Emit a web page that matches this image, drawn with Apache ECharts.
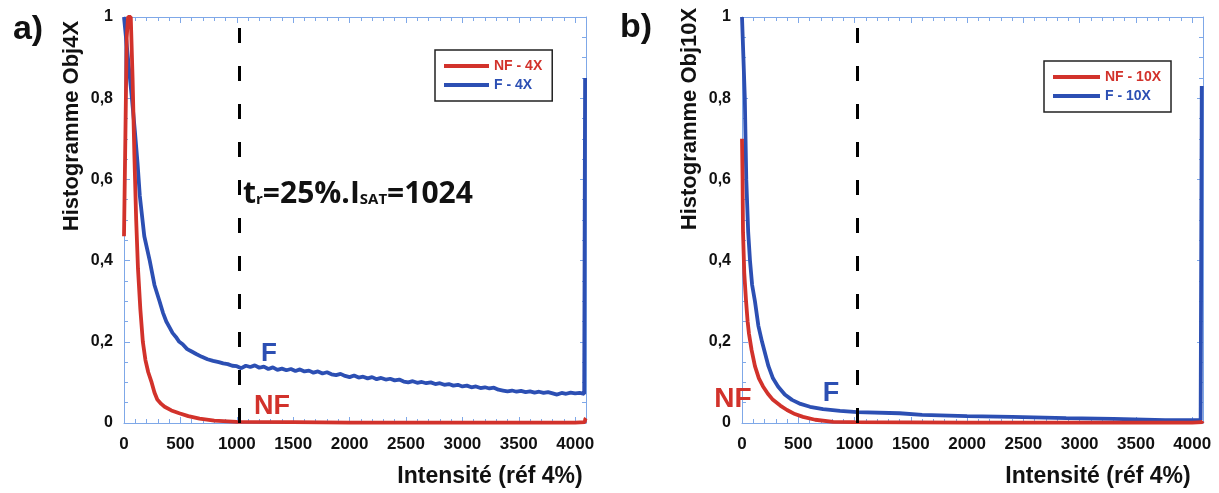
<!DOCTYPE html>
<html>
<head>
<meta charset="utf-8">
<script src="https://cdn.jsdelivr.net/npm/echarts@6/dist/echarts.min.js"></script>
<style>
html,body{margin:0;padding:0;background:#fff;}
#c{width:1219px;height:493px;}
</style>
</head>
<body>
<div id="c"></div>
<script>
// ---- Data (x = intensity, y = normalised histogram) ----
const xTickValues = [0, 500, 1000, 1500, 2000, 2500, 3000, 3500, 4000];
const yTickValues = [0, 0.2, 0.4, 0.6, 0.8, 1];
const thresholdX = 1024;

const NF4 = [[0,0.46],[12,0.7],[24,0.95],[36,1.0],[60,1.0],[76,0.85],[92,0.66],[108,0.5],[124,0.38],[145,0.28],[167,0.2],[190,0.155],[215,0.125],[245,0.1],[270,0.075],[295,0.058],[330,0.047],[360,0.04],[420,0.031],[490,0.024],[570,0.017],[670,0.011],[800,0.006],[1000,0.003],[1500,0.002],[2000,0.001],[3000,0.001],[4000,0.001],[4085,0.002],[4090,0.01],[4096,0.012]];

const F4 = [[0,1.0],[35,0.9],[70,0.8],[96,0.72],[120,0.64],[140,0.56],[180,0.46],[228,0.4],[270,0.34],[315,0.3],[345,0.272],[375,0.25],[405,0.235],[430,0.222],[460,0.212],[490,0.2],[520,0.194],[560,0.182],[600,0.176],[640,0.17],[690,0.163],[740,0.157],[790,0.153],[840,0.15],[880,0.147],[920,0.145],[960,0.141],[1000,0.14],
[1040,0.135],[1080,0.141],[1120,0.138],[1160,0.142],[1200,0.136],[1240,0.139],[1280,0.133],[1320,0.137],[1360,0.131],[1400,0.134],[1440,0.13],[1480,0.133],[1520,0.128],[1560,0.132],[1600,0.127],[1640,0.129],[1680,0.124],[1720,0.127],[1760,0.122],[1800,0.125],[1840,0.12],[1880,0.118],[1920,0.121],[1960,0.116],[2000,0.113],[2040,0.117],[2080,0.112],[2120,0.114],[2160,0.11],[2200,0.113],[2240,0.108],[2280,0.111],[2320,0.107],[2360,0.109],[2400,0.105],[2440,0.107],[2480,0.102],[2520,0.1],[2560,0.103],[2600,0.099],[2640,0.101],[2680,0.098],[2720,0.1],[2760,0.096],[2800,0.098],[2840,0.094],[2880,0.096],[2920,0.092],[2960,0.094],[3000,0.09],[3040,0.092],[3080,0.088],[3120,0.09],[3160,0.086],[3200,0.088],[3240,0.085],[3280,0.087],[3320,0.082],[3360,0.08],[3400,0.078],[3440,0.08],[3480,0.077],[3520,0.079],[3560,0.076],[3600,0.078],[3640,0.075],[3680,0.077],[3720,0.074],[3760,0.076],[3800,0.073],[3840,0.07],[3880,0.074],[3920,0.072],[3960,0.075],[4000,0.073],[4040,0.074],[4080,0.072],[4088,0.85]];

const NF10 = [[0,0.7],[5,0.6],[9,0.47],[20,0.37],[36,0.3],[50,0.25],[62,0.22],[85,0.18],[115,0.14],[150,0.11],[187,0.09],[230,0.072],[275,0.057],[340,0.043],[400,0.032],[470,0.022],[542,0.015],[650,0.008],[810,0.003],[1000,0.002],[2000,0.001],[4000,0.001],[4088,0.002],[4094,0.005]];

const F10 = [[0,1.0],[10,1.0],[25,0.8],[38,0.6],[55,0.47],[71,0.4],[90,0.34],[115,0.3],[145,0.24],[178,0.2],[235,0.14],[275,0.11],[320,0.09],[380,0.07],[444,0.057],[520,0.047],[604,0.04],[720,0.034],[871,0.03],[1024,0.027],[1400,0.024],[1600,0.02],[2000,0.017],[2400,0.015],[2880,0.012],[3300,0.01],[3760,0.007],[4000,0.007],[4075,0.007],[4085,0.83]];

// ---- Styling ----
const RED = '#d2322b', BLUE = '#2c4fb3', AX = '#7fa8e8';
const FONT = 'Liberation Sans, Arial, sans-serif';

function xAxes(g) {
  const base = {
    type: 'value', gridIndex: g, min: 0, max: 4096, interval: 500,
    axisLine: { show: true, onZero: false, lineStyle: { color: AX, width: 1 } },
    axisTick: { show: true, inside: true, length: 6, lineStyle: { color: AX } },
    minorTick: { show: true, splitNumber: 5, length: 4, lineStyle: { color: AX } },
    splitLine: { show: false }, minorSplitLine: { show: false }
  };
  return [
    Object.assign({}, base, { position: 'bottom',
      axisLabel: { showMaxLabel: false, color: '#111', fontWeight: 'bold', fontSize: 17, margin: 13, fontFamily: FONT,
        formatter: v => (xTickValues.indexOf(v) >= 0 ? String(v) : '') } }),
    Object.assign({}, base, { position: 'top', axisLabel: { show: false } })
  ];
}
function yAxes(g) {
  const base = {
    type: 'value', gridIndex: g, min: 0, max: 1, interval: 0.2,
    axisLine: { show: true, onZero: false, lineStyle: { color: AX, width: 1 } },
    axisTick: { show: true, inside: true, length: 6, lineStyle: { color: AX } },
    minorTick: { show: true, splitNumber: 4, length: 4, lineStyle: { color: AX } },
    splitLine: { show: false }, minorSplitLine: { show: false }
  };
  return [
    Object.assign({}, base, { position: 'left',
      axisLabel: { color: '#111', fontWeight: 'bold', fontSize: 16, margin: 11, fontFamily: FONT,
        formatter: v => { const r = Math.round(v * 10) / 10; return yTickValues.indexOf(r) >= 0 ? String(r).replace('.', ',') : ''; } } }),
    Object.assign({}, base, { position: 'right', axisLabel: { show: false } })
  ];
}

const dashLine = {
  symbol: 'none', silent: true, label: { show: false },
  lineStyle: { color: '#000', type: [15, 23], width: 3 },
  data: [{ xAxis: thresholdX }]
};

function line(name, data, color, xi, yi, withMark) {
  const s = {
    name, type: 'line', data, xAxisIndex: xi, yAxisIndex: yi,
    showSymbol: false, symbol: 'none', smooth: false,
    lineStyle: { color, width: 3.8 }, itemStyle: { color },
    z: 3, animation: false
  };
  if (withMark) s.markLine = Object.assign({ animation: false }, dashLine);
  return s;
}

function legend(left, top, names, w) {
  return {
    left, top, orient: 'vertical', selectedMode: false,
    icon: 'rect', itemWidth: w, itemHeight: 4, itemGap: 5,
    padding: [9, 10, 9, 9], borderColor: '#222', borderWidth: 1.5, backgroundColor: '#fff',
    textStyle: { fontWeight: 'bold', fontSize: 14, fontFamily: FONT },
    data: [{ name: names[0], textStyle: { color: RED } }, { name: names[1], textStyle: { color: BLUE } }]
  };
}

function txt(x, y, text, size, color, extra) {
  return Object.assign({
    type: 'text', x, y, silent: true, z: 10,
    style: { text, fill: color, font: 'bold ' + size + 'px ' + FONT, align: 'center', verticalAlign: 'middle' }
  }, extra || {});
}

const chart = echarts.init(document.getElementById('c'), null, { renderer: 'canvas' });
chart.setOption({
  animation: false,
  backgroundColor: '#fff',
  grid: [
    { left: 124, top: 17, width: 462, height: 406 },
    { left: 742, top: 17, width: 461, height: 406 }
  ],
  xAxis: xAxes(0).concat(xAxes(1)),
  yAxis: yAxes(0).concat(yAxes(1)),
  legend: [
    legend(435, 50, ['NF - 4X', 'F - 4X'], 45),
    legend(1044, 61, ['NF - 10X', 'F - 10X'], 47)
  ],
  series: [
    line('F - 4X', F4, BLUE, 0, 0, false),
    line('NF - 4X', NF4, RED, 0, 0, true),
    line('F - 10X', F10, BLUE, 2, 2, false),
    line('NF - 10X', NF10, RED, 2, 2, true)
  ],
  graphic: [
    txt(28, 30, 'a)', 34, '#111'),
    txt(636, 28, 'b)', 34, '#111'),
    txt(72, 126, 'Histogramme Obj4X', 22, '#111', { rotation: Math.PI / 2 }),
    txt(690, 119, 'Histogramme Obj10X', 22, '#111', { rotation: Math.PI / 2 }),
    txt(490, 477, 'Intensité (réf 4%)', 23, '#111'),
    txt(1098, 477, 'Intensité (réf 4%)', 23, '#111'),
    txt(269, 354, 'F', 26, BLUE),
    txt(272, 407, 'NF', 27, RED),
    txt(831, 394, 'F', 27, BLUE),
    txt(733, 399, 'NF', 28, RED),
    {
      type: 'text', x: 243, y: 194, silent: true, z: 10,
      style: {
        text: '{t|t}{s|r}{t|=25%.I}{s|SAT}{t|=1024}',
        align: 'left', verticalAlign: 'middle',
        rich: {
          t: { fontFamily: 'Open Sans', fontWeight: 'bold', fontSize: 30, fill: '#111', lineHeight: 34 },
          s: { fontFamily: 'Open Sans', fontWeight: 'bold', fontSize: 15, fill: '#111', lineHeight: 15, verticalAlign: 'bottom', padding: [0, 0, 4, 0] }
        }
      }
    }
  ]
});
</script>
</body>
</html>
